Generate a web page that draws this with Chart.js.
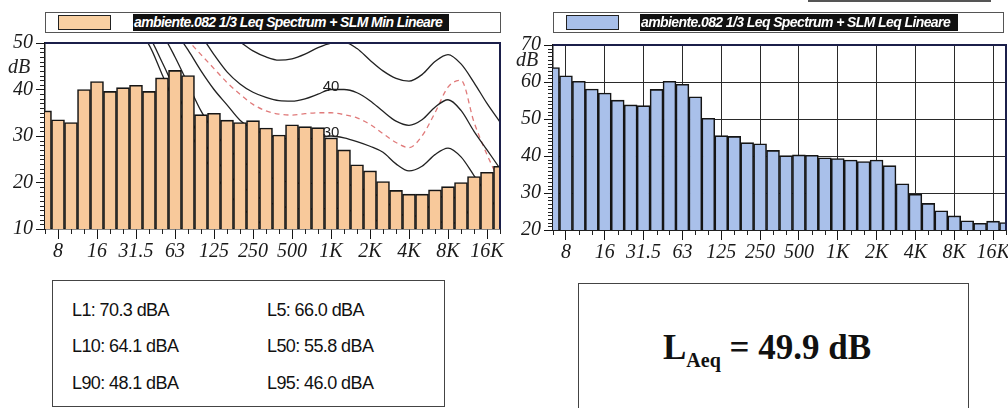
<!DOCTYPE html>
<html>
<head>
<meta charset="utf-8">
<script src="https://cdn.jsdelivr.net/npm/chart.js@4.4.1/dist/chart.umd.min.js"></script>
<style>
  * { box-sizing: border-box; }
  body { margin: 0; width: 1008px; height: 408px; background: #fff; position: relative; overflow: hidden;
         font-family: 'Liberation Sans', Arial, sans-serif; }
  canvas { position: absolute; top: 0; }
  .legend { position: absolute; top: 12px; height: 21px; border: 1px solid #555; background: #fff; }
  .swatch { position: absolute; top: 2px; left: 12px; width: 53px; height: 15px; border: 1px solid #222; }
  .ltext { position: absolute; top: 1px; height: 17px; background: #111; color: #fff; font-style: italic; font-weight: bold;
           font-size: 14px; line-height: 17px; white-space: nowrap; overflow: hidden; letter-spacing: -0.6px; padding-left: 1px; }
  .db { position: absolute; font-family: 'Liberation Serif', serif; font-style: italic; font-size: 20px;
        line-height: 20px; color: #222; }
  .box { position: absolute; border: 1.5px solid #444; background: #fff; }
  .stat { position: absolute; font-size: 18px; line-height: 20px; letter-spacing: -0.6px; color: #111; }
  .laeq { position: absolute; left: 84px; top: 44px; font-family: 'Liberation Serif', serif; font-weight: bold;
          font-size: 35px; color: #111; white-space: nowrap; }
  .laeq sub { font-size: 20px; vertical-align: -8px; }
</style>
</head>
<body>
<canvas id="minChart" width="505" height="270" style="left:0"></canvas>
<canvas id="leqChart" width="500" height="270" style="left:508px"></canvas>

<div style="position:absolute;left:808px;top:0;width:183px;height:2px;background:#555"></div>

<div class="legend" style="left:45px;width:456px">
  <div class="swatch" style="background:#f9d0a2"></div>
  <div class="ltext" style="left:87px;width:316px">ambiente.082 1/3 Leq Spectrum + SLM Min Lineare</div>
</div>
<div class="legend" style="left:553px;width:451px">
  <div class="swatch" style="background:#a8bfe9"></div>
  <div class="ltext" style="left:86px;width:318px">ambiente.082 1/3 Leq Spectrum + SLM Leq Lineare</div>
</div>

<div class="db" style="left:8px;top:56px">dB</div>
<div class="db" style="left:516px;top:49px">dB</div>

<div class="box" style="left:52px;top:280px;width:393px;height:127px">
  <div class="stat" style="left:19px;top:19px">L1: 70.3 dBA</div>
  <div class="stat" style="left:214px;top:19px">L5: 66.0 dBA</div>
  <div class="stat" style="left:19px;top:55px">L10: 64.1 dBA</div>
  <div class="stat" style="left:214px;top:55px">L50: 55.8 dBA</div>
  <div class="stat" style="left:19px;top:92px">L90: 48.1 dBA</div>
  <div class="stat" style="left:214px;top:92px">L95: 46.0 dBA</div>
</div>
<div class="box" style="left:578px;top:283px;width:391px;height:140px">
  <div class="laeq">L<sub>Aeq</sub> = 49.9 dB</div>
</div>

<script>
// 1/3 octave bands
const bands = ['6.3', '8', '10', '12.5', '16', '20', '25', '31.5', '40', '50', '63', '80', '100', '125', '160', '200',
  '250', '315', '400', '500', '630', '800', '1K', '1.25K', '1.6K', '2K', '2.5K', '3.15K', '4K', '5K', '6.3K', '8K',
  '10K', '12.5K', '16K', '20K'];
const octaveLabels = ['8', '16', '31.5', '63', '125', '250', '500', '1K', '2K', '4K', '8K', '16K'];

// SLM Min (left) and SLM Leq (right), dB
const minLevels = [35.4, 33.5, 32.9, 40.0, 41.7, 39.6, 40.4, 40.9, 39.6, 42.5, 44.1, 43.0, 34.6, 34.9, 33.4, 32.9,
  33.3, 31.7, 30.2, 32.4, 32.0, 31.8, 29.6, 27.0, 23.8, 22.5, 20.2, 18.3, 17.5, 17.5, 18.4, 19.1, 20.0, 21.3, 22.2, 23.5];
const leqLevels = [63.9, 61.7, 60.2, 58.1, 57.0, 55.1, 53.8, 53.6, 58.0, 60.2, 59.4, 56.0, 50.2, 45.5, 45.3, 43.6,
  43.3, 41.5, 40.1, 40.3, 40.2, 39.5, 39.3, 38.9, 38.5, 38.9, 37.4, 32.5, 29.7, 27.2, 25.2, 23.8, 22.5, 21.8, 22.4, 22.0];

// contour curves behind the left spectrum
const curve50 = [110, 105, 100, 95, 90, 85, 80, 75, 70, 65, 60.5, 57, 54.5, 52.5, 51.3, 50.2, 48.3, 47, 46.3, 46.6,
  47.6, 49, 50, 50.2, 48.8, 46.3, 44, 42.4, 41.8, 43.2, 46, 47.5, 45.5, 41.5, 37, 33];
const curve40 = [105, 100, 95, 90, 85, 80, 75, 70, 65, 60.5, 57, 54, 51.5, 47.5, 43.8, 41.2, 39.4, 38.3, 37.6, 37.5,
  38, 39, 40, 40, 39.3, 37.6, 35.3, 33.2, 32.3, 33.5, 36.2, 37.8, 35.5, 31, 27, 23];
const curveRed = [100, 95, 90, 85, 80, 75, 70, 65, 60, 56, 53, 50.5, 47.5, 44.5, 41.5, 39, 36.8, 35.4, 34.7, 34.5,
  34.8, 35, 35, 34.6, 33.9, 32.5, 30.5, 28.6, 27.5, 30, 35, 40.5, 42, 33, 26, 20];
const curve30 = [95, 90, 85, 80, 75, 70, 66, 62, 58.5, 55.5, 52.5, 48.5, 44, 40, 36.7, 33.4, 31.5, 30.3, 29.6, 29.4,
  29.4, 29.6, 30, 29.6, 28.8, 27.8, 26.5, 24, 22.5, 23.5, 26, 27.4, 25.5, 21.5, 17.5, 13.5];
const curve20 = [90, 85, 80, 75, 70, 66, 62, 58.5, 55, 52, 47, 41.2, 35.4, 31, 27.5, 25, 23, 21.5, 20.5, 20,
  19.8, 19.8, 20, 19.8, 19, 18, 16.5, 14, 12.5, 13.5, 16, 17.4, 15.5, 11.5, 8, 5];
const curve10 = [86, 81, 76, 71, 66, 62, 58, 54.5, 51.5, 45.9, 40, 34.5, 29.5, 25.5, 22, 19.5, 17.5, 16, 15, 14.5,
  14.3, 14.3, 14.5, 14.3, 13.5, 12.5, 11, 8.5, 7, 8, 10.5, 12, 10, 6, 2, 0];
const curve0 = [84, 79, 74, 69, 64, 60, 56, 52.5, 49.6, 43.3, 37, 31.5, 26.5, 22, 18, 15, 12.5, 10.5, 9, 8.5,
  8, 8, 8, 8, 7.5, 6.5, 5, 3, 1.5, 2.5, 5, 6.5, 4.5, 0.5, -3, -6];
const curveMarks = [40, 30];

const serifTick = { family: "'Liberation Serif', 'Times New Roman', serif", style: 'italic', size: 20 };

// minor ticks, plot frame and curve labels
const axisDetails = {
  id: 'axisDetails',
  afterDatasetsDraw(chart, args, opts) {
    const { ctx, chartArea: a, scales: { x, y } } = chart;
    ctx.save();
    ctx.strokeStyle = opts.frameColor;
    ctx.lineWidth = 2;
    ctx.beginPath();
    ctx.moveTo(a.left, a.top);
    ctx.lineTo(a.right, a.top);
    ctx.lineTo(a.right, a.bottom);
    ctx.stroke();

    ctx.strokeStyle = '#222';
    ctx.lineWidth = 1;
    ctx.beginPath();
    for (let v = y.min + 1; v < y.max; v++) {
      if (v % 10 === 0) continue;
      const py = Math.round(y.getPixelForValue(v)) + 0.5;
      ctx.moveTo(a.left - 5, py);
      ctx.lineTo(a.left, py);
    }
    bands.forEach((b, i) => {
      if (octaveLabels.includes(b)) return;
      const px = Math.round(x.getPixelForValue(i)) + 0.5;
      ctx.moveTo(px, a.bottom);
      ctx.lineTo(px, a.bottom + 5);
    });
    ctx.stroke();

    if (opts.marks) {
      ctx.fillStyle = '#222';
      ctx.font = '15px "Liberation Sans", Arial, sans-serif';
      ctx.textAlign = 'center';
      ctx.textBaseline = 'alphabetic';
      opts.marks.forEach(m => {
        ctx.fillText(String(m), x.getPixelForValue(bands.indexOf('1K')), y.getPixelForValue(m) + 1);
      });
    }
    ctx.restore();
  }
};

function fixScale(size) {
  return scale => {
    if (scale.isHorizontal()) scale.height = size; else scale.width = size;
    scale.paddingTop = 0; scale.paddingBottom = 0; scale.paddingLeft = 0; scale.paddingRight = 0;
  };
}

function isOctave(i) {
  return octaveLabels.includes(bands[i]);
}

function curveSet(data, color, dash) {
  return {
    type: 'line', data: data, borderColor: color, borderWidth: 1.3, borderDash: dash || [],
    pointRadius: 0, cubicInterpolationMode: 'monotone', clip: 0, order: 1
  };
}

function createSpectrum(canvasId, levels, fill, yMin, yMax, withGrid, padTop, padRight, xHeight, curves, marks) {
  const ctx = document.getElementById(canvasId).getContext('2d');
  const datasets = [{
    type: 'bar', data: levels, backgroundColor: fill, borderColor: '#151515', borderWidth: 1.6,
    barPercentage: 1, categoryPercentage: 1, clip: 0, order: 0
  }].concat(curves);

  return new Chart(ctx, {
    type: 'bar',
    data: { labels: bands, datasets: datasets },
    options: {
      responsive: false,
      animation: false,
      devicePixelRatio: 1,
      layout: { padding: { top: padTop, right: padRight, left: 0, bottom: 0 } },
      plugins: {
        legend: { display: false },
        tooltip: { enabled: false },
        axisDetails: { frameColor: '#1b1f4a', marks: marks }
      },
      scales: {
        x: {
          offset: false,
          grid: {
            offset: false,
            drawOnChartArea: withGrid,
            color: c => isOctave(c.index) ? '#2a2a2a' : 'rgba(0,0,0,0)',
            tickLength: 10,
            tickColor: c => isOctave(c.index) ? '#151515' : 'rgba(0,0,0,0)'
          },
          border: { color: '#151515', width: 1.5 },
          ticks: {
            autoSkip: false, maxRotation: 0, padding: 1, color: '#1a1a1a', font: serifTick,
            callback: (v, i) => isOctave(i) ? bands[i] : ''
          },
          afterFit: fixScale(xHeight)
        },
        y: {
          min: yMin, max: yMax,
          grid: { drawOnChartArea: withGrid, color: '#2a2a2a', tickLength: 9, tickColor: '#151515' },
          border: { color: '#151515', width: 1.5 },
          ticks: { stepSize: 10, padding: 3, color: '#1a1a1a', font: serifTick },
          afterFit: fixScale(45)
        }
      }
    },
    plugins: [axisDetails]
  });
}

createSpectrum('minChart', minLevels, '#f8c99b', 10, 50, false, 43, 5, 41, [
  curveSet(curve50, '#222'),
  curveSet(curve40, '#222'),
  curveSet(curveRed, '#e07a7a', [5, 4]),
  curveSet(curve30, '#222'),
  curveSet(curve20, '#222'),
  curveSet(curve10, '#222'),
  curveSet(curve0, '#222')
], curveMarks);

createSpectrum('leqChart', leqLevels, '#a9c0ea', 20, 70, true, 45, 2, 40, [], null);
</script>
</body>
</html>
